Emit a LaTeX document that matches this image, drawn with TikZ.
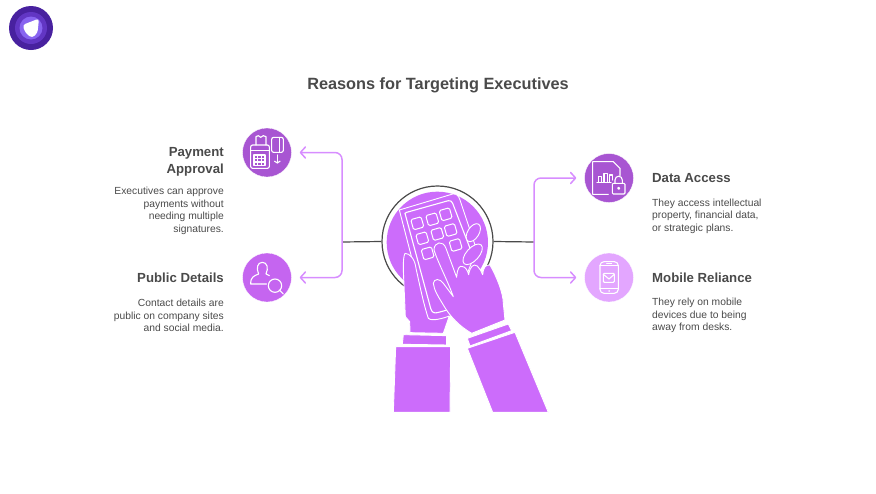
\documentclass[tikz,border=0pt]{standalone}
\usepackage{fontspec}
\setmainfont{Liberation Sans}
\usetikzlibrary{arrows.meta}
\definecolor{handpurple}{HTML}{CC6CFB}
\definecolor{darkpurple}{HTML}{A855D2}
\definecolor{midpurple}{HTML}{C565F0}
\definecolor{lightpurple}{HTML}{E3A6FF}
\definecolor{linepurple}{HTML}{D78DFF}
\definecolor{textgray}{HTML}{4A4A4A}
\definecolor{logodark}{HTML}{48219F}
\definecolor{logomid}{HTML}{6236C4}
\definecolor{logolight}{HTML}{8864F0}
\tikzset{
  iconbase/.style={circle,minimum size=49pt,inner sep=0pt,draw=white,line width=0.3pt},
  heading/.style={font=\fontsize{13.2}{17}\selectfont\bfseries,text=textgray,inner sep=0pt},
  body/.style={font=\fontsize{10.3}{12.6}\selectfont,text=textgray,inner sep=0pt},
  feeder/.style={draw=textgray,line width=1.2pt},
  branch/.style={draw=linepurple,line width=1.5pt,rounded corners=7pt,shorten >=8pt,-{Straight Barb[round,length=5pt,width=11pt]}},
  glyph/.style={draw=white,line width=1.1pt,line join=round,line cap=round},
  outline/.style={draw=white,line width=0.9pt,fill=handpurple,line join=round},
  key/.style={draw=white,line width=1pt,rounded corners=1.5pt,fill=handpurple}
}
\begin{document}
\begin{tikzpicture}[x=1pt,y=-1pt]
  \useasboundingbox (0,0) rectangle (876,493);
  % logo
  \node (logo) at (31,28) [circle,minimum size=44pt,inner sep=0pt,fill=logodark]{};
  \fill[logomid] (logo) circle (16pt);
  \fill[logolight] (logo) circle (11.5pt);
  \fill[white,rounded corners=3pt] (22.5,25) -- (39,18.5) -- (37.5,33) -- (32,38) -- (25.5,33) -- cycle;
  % title
  \node (title) at (438,85) [font=\fontsize{16.3}{20}\selectfont\bfseries,text=textgray,inner sep=0pt]{Reasons for Targeting Executives};
  % the four circles
  \node (payicon) at (267,152.5) [iconbase,fill=darkpurple]{};
  \node (detailicon) at (267,277.5) [iconbase,fill=midpurple]{};
  \node (dataicon) at (609,178) [iconbase,fill=darkpurple]{};
  \node (mobileicon) at (609,277.5) [iconbase,fill=lightpurple]{};
  % centre ring and connectors
  \node (ring) at (437.5,241.5) [circle,minimum size=111pt,inner sep=0pt,draw=textgray,line width=1.2pt]{};
  \coordinate (leftsplit) at (342,242);
  \coordinate (rightsplit) at (534,242);
  \draw[feeder] (ring.west) -- (leftsplit);
  \draw[feeder] (ring.east) -- (rightsplit);
  \draw[branch] (leftsplit) |- (payicon);
  \draw[branch] (leftsplit) |- (detailicon);
  \draw[branch] (rightsplit) |- (dataicon);
  \draw[branch] (rightsplit) |- (mobileicon);
  % hands, coordinates from the 3x crop
  \begin{scope}[shift={(360,170)},x=0.3333pt,y=-0.3333pt]
    \fill[handpurple] (232,217) circle (152);
    % phone
    \draw[outline] (118,120) -- (278,72) .. controls (290,70) and (296,78) .. (300,90) -- (350,240) -- (270,440) -- (222,452) .. controls (208,452) and (204,446) .. (200,436) -- cycle;
    \draw[glyph] (135,130) .. controls (137,128) and (137,128) .. (140,127) -- (265,92) .. controls (272,91) and (276,94) .. (278,100) -- (332,240);
    \draw[glyph] (135,130) -- (212,415) .. controls (216,428) and (222,430) .. (232,428) -- (262,420);
    \foreach \kx/\ky in {172/160,217/148,257/133,187/205,232/192,272/180,203/250,287/225}
      \draw[key,rotate around={16:(\kx,\ky)}] (\kx-16,\ky-16) rectangle (\kx+16,\ky+16);
    % fingers behind
    \draw[outline,rotate around={58:(340,188)}] (340,188) ellipse (30 and 17);
    \draw[outline,rotate around={48:(338,253)}] (338,253) ellipse (38 and 19);
    % left hand
    \draw[outline] (135,250) .. controls (150,250) and (165,268) .. (168,295) .. controls (178,340) and (190,400) .. (205,445) .. controls (215,455) and (250,445) .. (268,438) -- (250,490) -- (150,488) -- (149,455) -- (136,440) -- (130,300) .. controls (130,275) and (130,260) .. (135,250) -- cycle;
    \draw[outline] (130,494) -- (260,497) -- (260,525) -- (127,523) -- cycle;
    \draw[outline] (107,530) -- (272,530) -- (270,727) -- (100,727) -- cycle;
    % right hand
    \draw[outline] (222,240) .. controls (222,215) and (250,210) .. (258,235) -- (290,322) .. controls (292,295) and (298,285) .. (308,290) .. controls (316,290) and (322,300) .. (326,314) .. controls (330,290) and (340,280) .. (352,288) .. controls (360,295) and (364,305) .. (368,314) .. controls (370,295) and (375,283) .. (390,285) .. controls (410,320) and (430,370) .. (430,400) -- (435,450) -- (335,490) .. controls (300,470) and (270,440) .. (250,405) .. controls (235,380) and (222,360) .. (220,340) .. controls (222,325) and (240,325) .. (250,340) -- (280,380) .. controls (262,330) and (235,280) .. (222,240) -- cycle;
    \draw[outline] (322,505) -- (445,462) -- (455,482) -- (330,528) -- cycle;
    \draw[outline] (322,535) -- (465,487) -- (565,727) -- (398,727) -- cycle;
  \end{scope}
  % icons on the left
  \begin{scope}[shift={(230,120)},x=0.3333pt,y=-0.3333pt]
    \draw[glyph,rounded corners=2pt] (62,75) rectangle (118,145);
    \draw[glyph] (78,75) -- (78,50) -- (85,47) -- (92,52) -- (100,47) -- (108,50) -- (108,75);
    \draw[glyph] (62,92) -- (118,92);
    \draw[glyph] (72,105) rectangle (105,136);
    \foreach \gx in {83,94} \draw[glyph] (\gx,105) -- (\gx,136);
    \foreach \gy in {115,126} \draw[glyph] (72,\gy) -- (105,\gy);
    \draw[glyph,rounded corners=2pt] (125,52) rectangle (160,97);
    \draw[glyph] (148,52) -- (148,97);
    \draw[glyph,-{Straight Barb[length=2pt,width=6pt]}] (142,105) -- (142,131);
    \draw[glyph] (110,492) -- (62,492) .. controls (62,470) and (72,468) .. (86,462) .. controls (78,445) and (82,427) .. (97,427) .. controls (112,427) and (116,445) .. (108,462) -- (118,467);
    \draw[glyph] (135,497) circle (20);
    \draw[glyph] (148,510) -- (160,522);
  \end{scope}
  % icons on the right
  \begin{scope}[shift={(525,145)},x=0.3333pt,y=-0.3333pt]
    \draw[glyph] (250,148) -- (203,148) -- (203,50) -- (265,50) -- (285,70) -- (285,92);
    \draw[glyph] (220,112) -- (220,95) -- (230,95) -- (230,112) -- (237,112) -- (237,85) -- (247,85) -- (247,112) -- (253,112) -- (253,90) -- (263,90) -- (263,105);
    \draw[glyph] (216,113) -- (258,113);
    \draw[glyph,rounded corners=1pt] (262,115) rectangle (300,147);
    \draw[glyph] (270,115) -- (270,105) .. controls (270,90) and (292,90) .. (292,105) -- (292,115);
    \draw[glyph] (281,130) circle (3);
    \draw[glyph,rounded corners=4pt] (225,350) rectangle (280,445);
    \draw[glyph] (225,362) -- (280,362);
    \draw[glyph] (225,430) -- (280,430);
    \draw[glyph] (245,356) -- (260,356);
    \draw[glyph] (252,438) -- (253,438);
    \draw[glyph,rounded corners=1pt] (235,385) rectangle (268,412);
    \draw[glyph] (235,388) -- (252,402) -- (268,388);
  \end{scope}
  % texts
  \node (payhead) at (224,161.5) [heading,anchor=east,align=right]{Payment\\Approval};
  \node (paybody) at (224,211) [body,anchor=east,align=right]{Executives can approve\\payments without\\needing multiple\\signatures.};
  \node (detailhead) at (224,278) [heading,anchor=east]{Public Details};
  \node (detailbody) at (224,315.5) [body,anchor=east,align=right]{Contact details are\\public on company sites\\and social media.};
  \node (datahead) at (652,178) [heading,anchor=west]{Data Access};
  \node (databody) at (652,216) [body,anchor=west,align=left]{They access intellectual\\property, financial data,\\or strategic plans.};
  \node (mobilehead) at (652,278) [heading,anchor=west]{Mobile Reliance};
  \node (mobilebody) at (652,315.5) [body,anchor=west,align=left]{They rely on mobile\\devices due to being\\away from desks.};
\end{tikzpicture}
\end{document}
